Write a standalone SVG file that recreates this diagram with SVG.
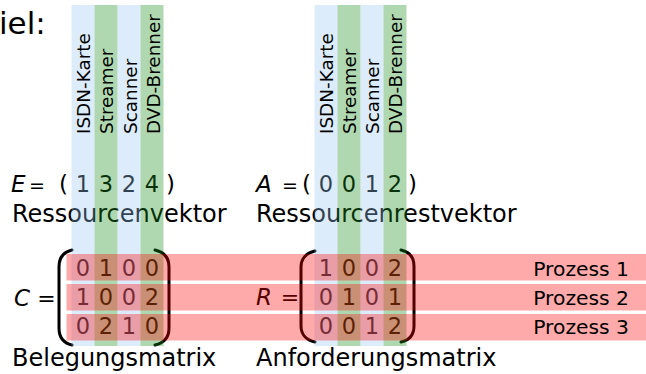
<svg xmlns="http://www.w3.org/2000/svg" width="646" height="374" viewBox="0 0 646 374">
  <style>
    text { font-family: "DejaVu Sans", "Liberation Sans", sans-serif; fill: #000; }
    .big { font-size: 31px; }
    .lbl { font-size: 24px; }
    .num { font-size: 22.5px; text-anchor: middle; }
    .var { font-size: 23px; font-style: italic; }
    .eq { font-size: 19px; text-anchor: middle; }
    .eqm { font-size: 22px; text-anchor: middle; }
    .par { font-size: 23px; }
    .dev { font-size: 18.4px; }
    .proc { font-size: 20.3px; text-anchor: end; }
    .bracket { fill: none; stroke: #000; stroke-width: 3; stroke-linecap: round; }
    .colA { fill: rgb(152,197,242); fill-opacity: 0.33; }
    .colB { fill: rgb(29,143,29); fill-opacity: 0.35; }
    .row { fill: #ff0000; fill-opacity: 0.333; }
  </style>
  <rect width="646" height="374" fill="#fff"/>

  <!-- heading fragment -->
  <text class="big" x="-1" y="34">iel:</text>

  <!-- resource vector E -->
  <g id="vector-E">
    <text class="var" x="11" y="192">E</text>
    <text class="eq" x="37" y="192">=</text>
    <text class="par" x="59" y="192">(</text>
    <text class="num" x="83" y="192">1</text>
    <text class="num" x="106" y="192">3</text>
    <text class="num" x="129" y="192">2</text>
    <text class="num" x="152" y="192">4</text>
    <text class="par" x="166" y="192">)</text>
    <text class="lbl" x="12" y="222">Ressourcenvektor</text>
  </g>

  <!-- remaining resource vector A -->
  <g id="vector-A">
    <text class="var" x="256" y="192">A</text>
    <text class="eq" x="290" y="192">=</text>
    <text class="par" x="302" y="192">(</text>
    <text class="num" x="326" y="192">0</text>
    <text class="num" x="349" y="192">0</text>
    <text class="num" x="372" y="192">1</text>
    <text class="num" x="395" y="192">2</text>
    <text class="par" x="408" y="192">)</text>
    <text class="lbl" x="256" y="222">Ressourcenrestvektor</text>
  </g>

  <!-- allocation matrix C -->
  <g id="matrix-C">
    <text class="var" x="14" y="306">C</text>
    <text class="eqm" x="46.5" y="306">=</text>
    <path class="bracket" d="M72,250 C63,252 59,258 59,267 V328 C59,337 63,343 72,345"/>
    <path class="bracket" d="M155,250 C164,252 169,258 169,267 V328 C169,337 164,343 155,345"/>
    <text class="num" x="83" y="276">0</text>
    <text class="num" x="106" y="276">1</text>
    <text class="num" x="129" y="276">0</text>
    <text class="num" x="152" y="276">0</text>
    <text class="num" x="83" y="305">1</text>
    <text class="num" x="106" y="305">0</text>
    <text class="num" x="129" y="305">0</text>
    <text class="num" x="152" y="305">2</text>
    <text class="num" x="83" y="334">0</text>
    <text class="num" x="106" y="334">2</text>
    <text class="num" x="129" y="334">1</text>
    <text class="num" x="152" y="334">0</text>
    <text class="lbl" x="12" y="366">Belegungsmatrix</text>
  </g>

  <!-- request matrix R -->
  <g id="matrix-R">
    <text class="var" x="256" y="305">R</text>
    <text class="eqm" x="290" y="305">=</text>
    <path class="bracket" d="M315,251 C306,253 301,259 301,267 V326 C301,334 306,340 315,342"/>
    <path class="bracket" d="M401,250 C410,252 414,258 414,266 V326 C414,334 410,340 401,342"/>
    <text class="num" x="326" y="276">1</text>
    <text class="num" x="349" y="276">0</text>
    <text class="num" x="372" y="276">0</text>
    <text class="num" x="395" y="276">2</text>
    <text class="num" x="326" y="305">0</text>
    <text class="num" x="349" y="305">1</text>
    <text class="num" x="372" y="305">0</text>
    <text class="num" x="395" y="305">1</text>
    <text class="num" x="326" y="334">0</text>
    <text class="num" x="349" y="334">0</text>
    <text class="num" x="372" y="334">1</text>
    <text class="num" x="395" y="334">2</text>
    <text class="lbl" x="256" y="366">Anforderungsmatrix</text>
  </g>

  <!-- device columns (tinted bands over the numbers) -->
  <g id="columns">
    <rect class="colA" x="71.5" y="5" width="23" height="341"/>
    <rect class="colB" x="94.5" y="5" width="23" height="341"/>
    <rect class="colA" x="117.5" y="5" width="23" height="341"/>
    <rect class="colB" x="140.5" y="5" width="23" height="341"/>
    <rect class="colA" x="314.5" y="5" width="23" height="341"/>
    <rect class="colB" x="337.5" y="5" width="23" height="341"/>
    <rect class="colA" x="360.5" y="5" width="23" height="341"/>
    <rect class="colB" x="383.5" y="5" width="23" height="341"/>
  </g>

  <!-- process rows -->
  <g id="rows">
    <rect class="row" x="66.5" y="254" width="580" height="26.5"/>
    <rect class="row" x="66.5" y="284" width="580" height="26.5"/>
    <rect class="row" x="66.5" y="314" width="580" height="26.5"/>
  </g>

  <!-- device names -->
  <g id="devices-left">
    <text class="dev" transform="translate(90,134) rotate(-90)">ISDN-Karte</text>
    <text class="dev" transform="translate(113,134) rotate(-90)">Streamer</text>
    <text class="dev" transform="translate(136.5,134) rotate(-90)">Scanner</text>
    <text class="dev" transform="translate(159.5,134) rotate(-90)">DVD-Brenner</text>
  </g>
  <g id="devices-right">
    <text class="dev" transform="translate(333,134) rotate(-90)">ISDN-Karte</text>
    <text class="dev" transform="translate(356,134) rotate(-90)">Streamer</text>
    <text class="dev" transform="translate(379,134) rotate(-90)">Scanner</text>
    <text class="dev" transform="translate(402,134) rotate(-90)">DVD-Brenner</text>
  </g>

  <!-- process names -->
  <g id="processes">
    <text class="proc" x="629" y="276">Prozess 1</text>
    <text class="proc" x="629" y="305">Prozess 2</text>
    <text class="proc" x="629" y="334">Prozess 3</text>
  </g>
</svg>
